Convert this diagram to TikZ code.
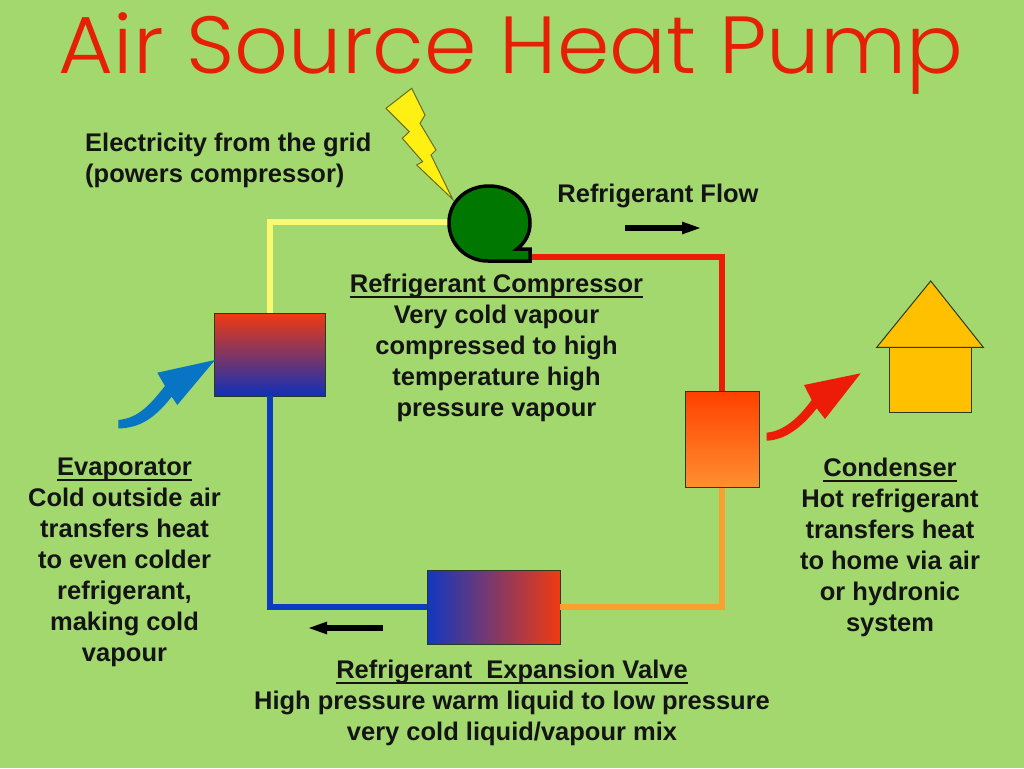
\documentclass[tikz,border=0pt]{standalone}
\usepackage{fontspec}
\usepackage{graphicx}
\setmainfont{Liberation Sans}
\newfontfamily\titlefont{Poppins Light}
\usetikzlibrary{arrows.meta}
\definecolor{bgc}{HTML}{A3D86F}
\definecolor{ink}{HTML}{141414}
\definecolor{titlered}{HTML}{E62006}
\definecolor{pyellow}{HTML}{FAFA70}
\definecolor{pred}{HTML}{EC1C08}
\definecolor{porange}{HTML}{F8A030}
\definecolor{pblue}{HTML}{0C3CC0}
\definecolor{edgec}{HTML}{2A3A20}
\definecolor{hotred}{HTML}{F03A10}
\definecolor{coldblue}{HTML}{1030B8}
\definecolor{condtop}{HTML}{FF4000}
\definecolor{condbot}{HTML}{FF9030}
\definecolor{valveblue}{HTML}{1038C0}
\definecolor{compgreen}{HTML}{007800}
\definecolor{boltyellow}{HTML}{FFF014}
\definecolor{boltedge}{HTML}{6A6A20}
\definecolor{arrowblue}{HTML}{0874C4}
\definecolor{houseyellow}{HTML}{FFC000}
\newcommand{\ulab}[1]{\leavevmode\setbox0=\hbox{#1}\rlap{\rule[-5.5pt]{\wd0}{2pt}}\box0}
\tikzset{
  x=1pt,y=-1pt,
  pipe/.style={line width=6pt},
  hx/.style={draw=edgec,line width=0.9pt,inner sep=0pt},
  lbl/.style={align=center,text=ink,font=\fontsize{25.5}{31}\bfseries\selectfont,inner sep=0pt},
  flow/.style={draw=black,line width=6pt,-{Triangle[length=20pt,width=11pt]}},
}
\begin{document}
\begin{tikzpicture}
\useasboundingbox (0,0) rectangle (1024,768);
\fill[bgc] (0,0) rectangle (1024,768);

\node[text=titlered,inner sep=0pt,anchor=base,font=\fontsize{81}{81}\titlefont\selectfont] (title) at (511,74) {\scalebox{1.04}[1]{Air Source Heat Pump}};

% heat exchangers
\node[hx,minimum width=111pt,minimum height=83pt,top color=hotred,bottom color=coldblue] (evap) at (270,354.5) {};
\node[hx,minimum width=74pt,minimum height=96pt,top color=condtop,bottom color=condbot] (cond) at (722,439.5) {};
\node[hx,minimum width=133pt,minimum height=74pt,left color=valveblue,right color=hotred] (valve) at (493.5,607) {};

% compressor
\coordinate (compIn) at (448,222);
\coordinate (compOut) at (531,257);
\coordinate (compBoltTip) at (452.7,199.3);
\coordinate (yellowCorner) at (270,222);
\coordinate (redCorner) at (722,257);
\coordinate (orangeCorner) at (722,607);
\coordinate (blueCorner) at (270,607);

\draw[pipe,pyellow] (evap.north) -- (yellowCorner) -- (compIn);
\draw[pipe,pred] (compOut) -- (redCorner) -- (cond.north);
\draw[pipe,porange] (cond.south) -- (orangeCorner) -- (valve.east);
\draw[pipe,pblue] (valve.west) -- (blueCorner) -- (evap.south);

\draw[draw=black,line width=3.5pt,fill=compgreen,line join=miter]
  (488,261) .. controls (466,261) and (449,244) .. (449,223)
  .. controls (449,202) and (466,186) .. (489,186)
  .. controls (512,186) and (530,202) .. (530,223)
  .. controls (530,233) and (526,242) .. (517,249)
  -- (530,249) -- (530,261) -- cycle;

% lightning bolt
\draw[draw=boltedge,line width=1pt,fill=boltyellow,line join=miter]
  (411.7,88.3) -- (386,108.3) -- (409.3,131.7) -- (402.3,138.3) -- (422.7,161.7) -- (416.7,165)
  -- (compBoltTip) -- (431,155) -- (436,150) -- (420,123.3) -- (425,115) -- cycle;

% heat arrows
\fill[arrowblue]
  (118.3,420) .. controls (140,418) and (152,402) .. (165,386) -- (157.3,372.7) -- (215,360)
  -- (177.3,405) -- (171.7,396.7) .. controls (155,418) and (140,428) .. (118.3,428.5) -- cycle;
\fill[pred]
  (766.7,432.7) .. controls (785,431) and (800,416) .. (811.7,400) -- (804,385) -- (860.7,373.3)
  -- (825,419) -- (816.7,408.3) .. controls (803,426) and (786,440) .. (766.7,440.7) -- cycle;

% house
\draw[draw=edgec,line width=1pt,fill=houseyellow] (889,347.3) rectangle (971.3,412.3);
\draw[draw=edgec,line width=1pt,fill=houseyellow,line join=miter] (930.7,281) -- (983.3,347.3) -- (876.7,347.3) -- cycle;

% flow arrows
\coordinate (flowA) at (625,228);
\coordinate (flowB) at (702,228);
\coordinate (flowC) at (383,628);
\coordinate (flowD) at (307,628);
\draw[flow] (flowA) -- (flowB);
\draw[flow] (flowC) -- (flowD);

% labels
\node[lbl,align=left,anchor=north west] (elec) at (85,133) {Electricity from the grid\\(powers compressor)};
\node[lbl,anchor=north] (flowlabel) at (658,184) {Refrigerant Flow};
\node[lbl,anchor=north] (compText) at (496.5,274) {\ulab{Refrigerant Compressor}\\Very cold vapour\\compressed to high\\temperature high\\pressure vapour};
\node[lbl,anchor=north] (evapText) at (124.5,458) {\ulab{Evaporator}\\Cold outside air\\transfers heat\\to even colder\\refrigerant,\\making cold\\vapour};
\node[lbl,anchor=north] (condText) at (890,458) {\ulab{Condenser}\\Hot refrigerant\\transfers heat\\to home via air\\or hydronic\\system};
\node[lbl,anchor=north] (valveText) at (512,660) {\ulab{Refrigerant\ \ Expansion Valve}\\High pressure warm liquid to low pressure\\very cold liquid/vapour mix};
\end{tikzpicture}
\end{document}
